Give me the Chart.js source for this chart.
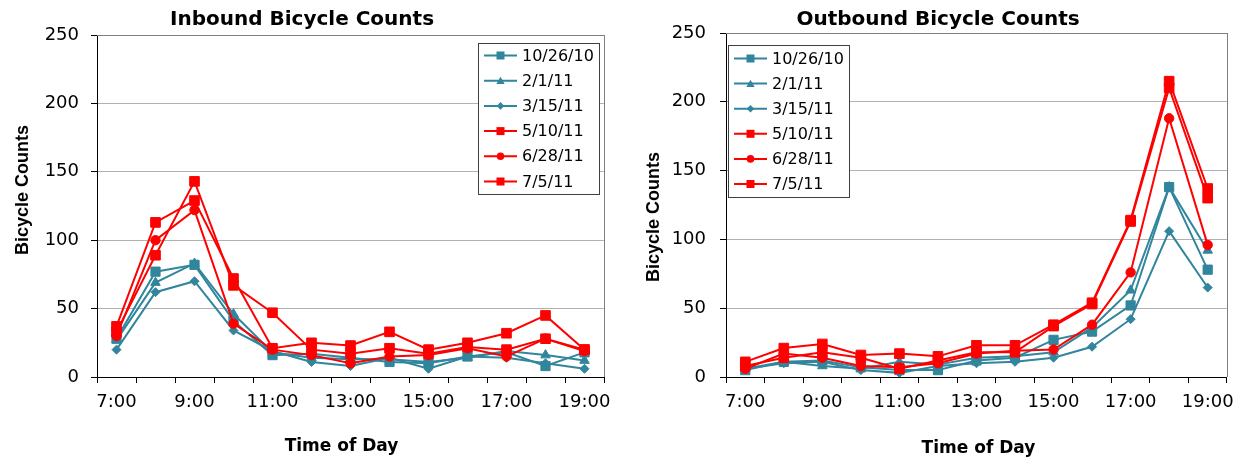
<!DOCTYPE html>
<html><head><meta charset="utf-8">
<script src="https://cdn.jsdelivr.net/npm/chart.js@4.4.1/dist/chart.umd.min.js"></script>
<style>
html,body{margin:0;padding:0;background:#fff;width:1243px;height:457px;overflow:hidden}
#c1{position:absolute;left:0;top:0}
#c2{position:absolute;left:622px;top:0}
</style></head><body>
<canvas id="c1" width="621" height="457"></canvas>
<canvas id="c2" width="621" height="457"></canvas>
<script>
// ---- data ----
const timeLabels = ['7:00','8:00','9:00','10:00','11:00','12:00','13:00','14:00','15:00','16:00','17:00','18:00','19:00'];
const seriesNames = ['10/26/10','2/1/11','3/15/11','5/10/11','6/28/11','7/5/11'];
const yTickValues = [0, 50, 100, 150, 200, 250];

const inbound_10_26_10 = [28, 77, 82, 41, 16, 17, 14, 11, 10, 15, 18, 8, 18];
const inbound_2_1_11   = [27, 69, 83, 46, 18, 14, 13, 13, 11, 14, 19, 16, 12];
const inbound_3_15_11  = [20, 62, 70, 34, 19, 11, 8, 14, 6, 15, 14, 10, 6];
const inbound_5_10_11  = [37, 113, 129, 72, 21, 25, 23, 33, 20, 25, 32, 45, 20];
const inbound_6_28_11  = [30, 100, 122, 39, 20, 16, 10, 15, 16, 21, 15, 28, 19];
const inbound_7_5_11   = [33, 89, 143, 67, 47, 20, 17, 21, 17, 22, 20, 28, 20];

const outbound_10_26_10 = [5, 11, 12, 7, 5, 5, 12, 14, 27, 33, 52, 138, 78];
const outbound_2_1_11   = [6, 11, 8, 6, 11, 9, 14, 15, 18, 36, 63, 138, 92];
const outbound_3_15_11  = [6, 10, 11, 5, 3, 8, 10, 11, 14, 22, 42, 106, 65];
const outbound_5_10_11  = [11, 21, 24, 16, 17, 15, 23, 23, 38, 54, 114, 215, 137];
const outbound_6_28_11  = [6, 17, 14, 8, 7, 10, 17, 19, 20, 38, 76, 188, 96];
const outbound_7_5_11   = [8, 14, 18, 14, 6, 12, 18, 18, 37, 53, 113, 210, 130];

const xAxisTitle = 'Time of Day';
const yAxisTitle = 'Bicycle Counts';

// ---- styles ----
const TEAL = '#31859C', RED = '#FF0000';
const seriesColors  = [TEAL, TEAL, TEAL, RED, RED, RED];
const seriesMarkers = ['rect', 'triangle', 'rectRot', 'rect', 'circle', 'rect'];
const markerRadius  = [6.5, 5.5, 4.5, 6.8, 4.7, 6.8];
const legendMarkerR = [4, 4.8, 3.8, 4, 3.8, 4];

function buildDatasets(arrays) {
  return arrays.map((vals, i) => ({
    label: seriesNames[i],
    data: vals,
    borderColor: seriesColors[i],
    backgroundColor: seriesColors[i],
    pointBackgroundColor: seriesColors[i],
    pointBorderColor: seriesColors[i],
    pointStyle: seriesMarkers[i],
    pointRadius: markerRadius[i],
    pointBorderWidth: 1,
    borderWidth: 2,
    tension: 0,
    order: arrays.length - i
  }));
}

function drawMarker(ctx, style, x, y, r, color) {
  ctx.fillStyle = color;
  ctx.beginPath();
  if (style === 'rect') {
    ctx.rect(x - r, y - r, 2 * r, 2 * r);
  } else if (style === 'circle') {
    ctx.arc(x, y, r, 0, Math.PI * 2);
  } else if (style === 'triangle') {
    for (let k = 0; k < 3; k++) {
      const a = -Math.PI / 2 + k * 2 * Math.PI / 3;
      const px = x + Math.cos(a) * r, py = y + Math.sin(a) * r + r * 0.2;
      if (k === 0) ctx.moveTo(px, py); else ctx.lineTo(px, py);
    }
    ctx.closePath();
  } else if (style === 'rectRot') {
    ctx.moveTo(x, y - r); ctx.lineTo(x + r, y); ctx.lineTo(x, y + r); ctx.lineTo(x - r, y);
    ctx.closePath();
  }
  ctx.fill();
}

const frameLines = {
  id: 'frameLines',
  beforeDatasetsDraw(chart) {
    const {ctx, chartArea: a} = chart;
    ctx.save();
    ctx.strokeStyle = '#7f7f7f';
    ctx.lineWidth = 1;
    ctx.beginPath();
    ctx.moveTo(a.left, Math.round(a.top) + 0.5);
    ctx.lineTo(a.right + 0.5, Math.round(a.top) + 0.5);
    ctx.moveTo(Math.round(a.right) + 0.5, a.top);
    ctx.lineTo(Math.round(a.right) + 0.5, a.bottom);
    ctx.stroke();
    ctx.restore();
  }
};

// axis titles placed relative to the chart area
const axisTitles = {
  id: 'axisTitles',
  afterDraw(chart, args, o) {
    const {ctx, chartArea: a} = chart;
    ctx.save();
    ctx.fillStyle = '#000';
    ctx.textAlign = 'center';
    ctx.textBaseline = 'middle';
    ctx.font = 'bold 17px "DejaVu Sans"';
    ctx.fillText(xAxisTitle, (a.left + a.right) / 2 + o.xdx, o.xy);
    ctx.translate(o.yx, (a.top + a.bottom) / 2 + o.ydy);
    ctx.rotate(-Math.PI / 2);
    ctx.font = 'bold 18px "Liberation Sans"';
    ctx.fillText(yAxisTitle, 0, 0);
    ctx.restore();
  }
};

const boxLegend = {
  id: 'boxLegend',
  afterDraw(chart, args, o) {
    const {ctx, chartArea: a} = chart;
    const x0 = Math.round(o.anchor === 'right' ? a.right - o.dx - o.w : a.left + o.dx);
    const y0 = Math.round(a.top + o.dy);
    ctx.save();
    ctx.fillStyle = '#fff';
    ctx.fillRect(x0, y0, o.w, o.h);
    ctx.strokeStyle = '#404040';
    ctx.lineWidth = 1;
    ctx.strokeRect(x0 + 0.5, y0 + 0.5, o.w, o.h);
    chart.data.datasets.forEach((ds, i) => {
      const cy = y0 + o.first + i * o.gap;
      const lx = x0 + 6;
      ctx.strokeStyle = ds.borderColor;
      ctx.lineWidth = 2;
      ctx.beginPath();
      ctx.moveTo(lx, cy); ctx.lineTo(lx + 33, cy);
      ctx.stroke();
      drawMarker(ctx, ds.pointStyle, lx + 16.5, cy, legendMarkerR[i], ds.borderColor);
      ctx.fillStyle = '#000';
      ctx.font = '16px "DejaVu Sans"';
      ctx.textBaseline = 'middle';
      ctx.textAlign = 'left';
      ctx.fillText(ds.label, x0 + 44, cy + 1);
    });
    ctx.restore();
  }
};

function makeChart(canvasId, titleText, arrays, cfg) {
  return new Chart(document.getElementById(canvasId), {
    type: 'line',
    data: { labels: timeLabels, datasets: buildDatasets(arrays) },
    plugins: [frameLines, boxLegend, axisTitles],
    options: {
      responsive: false,
      animation: false,
      devicePixelRatio: 1,
      layout: { padding: { left: cfg.padLeft, right: cfg.padRight, top: 0, bottom: 0 } },
      plugins: {
        legend: { display: false },
        tooltip: { enabled: false },
        title: {
          display: true,
          text: titleText,
          color: '#000',
          font: { family: 'DejaVu Sans', size: 20, weight: 'bold' },
          padding: { top: 8, bottom: cfg.titleBottom }
        },
        boxLegend: cfg.legend,
        axisTitles: cfg.titles
      },
      scales: {
        x: {
          type: 'category',
          offset: true,
          afterFit(s) { s.height = 80; },
          grid: { offset: true, drawOnChartArea: false, drawTicks: true, tickLength: 6, color: '#000', tickColor: '#000' },
          border: { display: true, color: '#000', width: 1 },
          ticks: {
            autoSkip: false, maxRotation: 0, minRotation: 0, padding: 9,
            color: '#000', font: { family: 'DejaVu Sans', size: 18 },
            callback(value, index) { return index % 2 === 0 ? this.getLabelForValue(value) : ''; }
          },
          title: { display: false }
        },
        y: {
          min: 0, max: 250,
          afterFit(s) { s.width = cfg.yWidth; },
          afterBuildTicks(s) { s.ticks = yTickValues.map(v => ({ value: v })); },
          grid: { color: '#b2b2b2', tickColor: '#000', tickLength: 6, drawTicks: true },
          border: { display: true, color: '#000', width: 1 },
          ticks: { padding: cfg.yTickPad, color: '#000', font: { family: 'DejaVu Sans', size: 18 } },
          title: { display: false }
        }
      }
    }
  });
}

makeChart('c1', 'Inbound Bicycle Counts',
  [inbound_10_26_10, inbound_2_1_11, inbound_3_15_11, inbound_5_10_11, inbound_6_28_11, inbound_7_5_11],
  { padLeft: 0, padRight: 17, yWidth: 97, titleBottom: 3, yTickPad: 12,
    titles: { xdx: -9, xy: 446.5, yx: 23.5, ydy: -16 },
    legend: { anchor: 'right', dx: 5, dy: 8, w: 121, h: 151, first: 12.5, gap: 25.2 } });

makeChart('c2', 'Outbound Bicycle Counts',
  [outbound_10_26_10, outbound_2_1_11, outbound_3_15_11, outbound_5_10_11, outbound_6_28_11, outbound_7_5_11],
  { padLeft: 21, padRight: 10, yWidth: 83, titleBottom: 1, yTickPad: 14,
    titles: { xdx: 2, xy: 449, yx: 32, ydy: 12 },
    legend: { anchor: 'left', dx: 2, dy: 12, w: 121, h: 152, first: 13.5, gap: 25.1 } });
</script>
</body></html>
